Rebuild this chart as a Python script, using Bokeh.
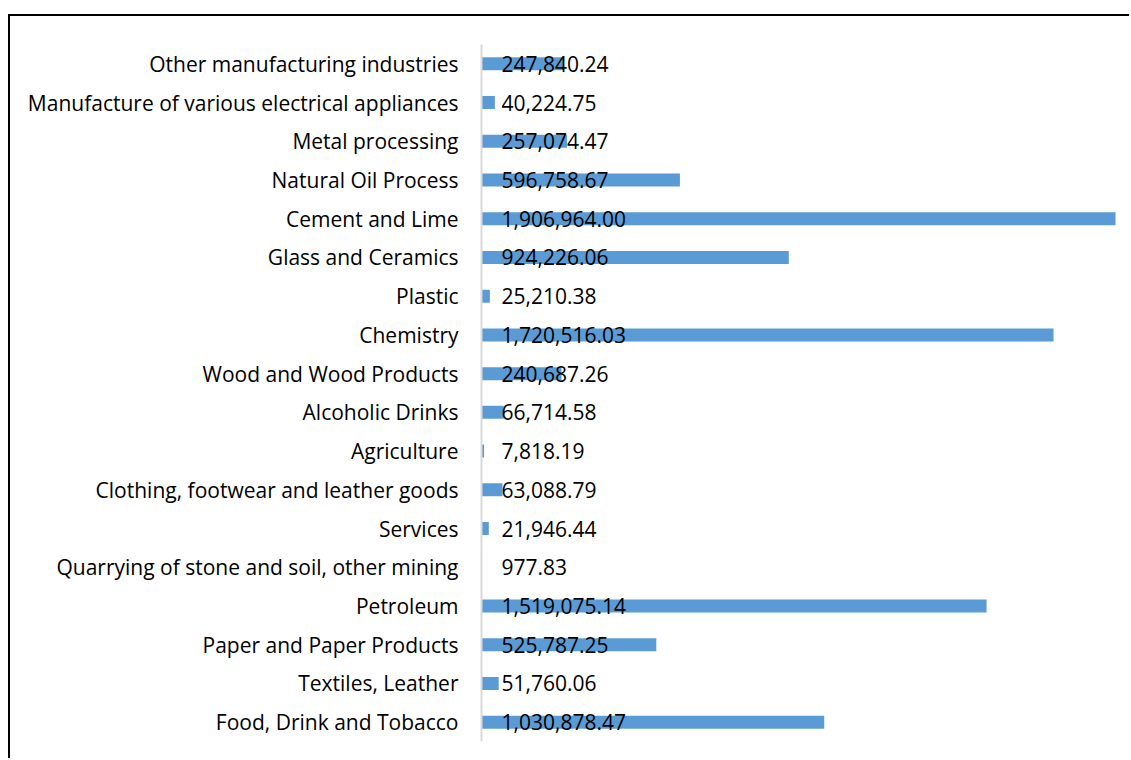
from bokeh.plotting import figure
from bokeh.models import ColumnDataSource, FactorRange, Range1d
from bokeh.embed import file_html
from bokeh.resources import INLINE
from bokeh.core.properties import value

# Categories listed top to bottom as in the chart
categories = [
    "Other manufacturing industries",
    "Manufacture of various electrical appliances",
    "Metal processing",
    "Natural Oil Process",
    "Cement and Lime",
    "Glass and Ceramics",
    "Plastic",
    "Chemistry",
    "Wood and Wood Products",
    "Alcoholic Drinks",
    "Agriculture",
    "Clothing, footwear and leather goods",
    "Services",
    "Quarrying of stone and soil, other mining",
    "Petroleum",
    "Paper and Paper Products",
    "Textiles, Leather",
    "Food, Drink and Tobacco",
]
values = [
    247840.24,
    40224.75,
    257074.47,
    596758.67,
    1906964.00,
    924226.06,
    25210.38,
    1720516.03,
    240687.26,
    66714.58,
    7818.19,
    63088.79,
    21946.44,
    977.83,
    1519075.14,
    525787.25,
    51760.06,
    1030878.47,
]

cats_bt = categories[::-1]
vals_bt = values[::-1]
labels = [f"{v:,.2f}" for v in vals_bt]
src = ColumnDataSource(dict(cat=cats_bt, val=vals_bt, lab=labels))

FONT = "Open Sans"

p = figure(
    y_range=FactorRange(*cats_bt, range_padding=0),
    x_range=Range1d(0, 1955000),
    width=1121, height=744,
    output_backend="svg", toolbar_location=None,
    min_border_left=471, min_border_right=0,
    min_border_top=28, min_border_bottom=19,
)
p.hbar(y="cat", left=0, right="val", height=0.336, fill_color="#5B9BD5",
       line_color=None, source=src)
p.text(x=0, y="cat", text="lab", x_offset=20, text_baseline="middle",
       text_align="left", text_font=value(FONT), text_font_size="21px",
       text_color="#000000", source=src)

p.xaxis.visible = False
p.xgrid.visible = False
p.ygrid.visible = False
p.outline_line_color = None
ax = p.yaxis[0]
ax.major_tick_line_color = None
ax.minor_tick_line_color = None
ax.major_tick_out = 0
ax.major_tick_in = 0
ax.axis_line_color = "#d9d9d9"
ax.axis_line_width = 2
ax.major_label_standoff = 23
ax.major_label_text_font = FONT
ax.major_label_text_font_size = "21px"
ax.major_label_text_color = "#000000"

p.styles = {"border-left": "2px solid black", "border-top": "2px solid black"}
p.margin = (14, 0, 0, 8)

open("out.html", "w").write(file_html(p, INLINE))
